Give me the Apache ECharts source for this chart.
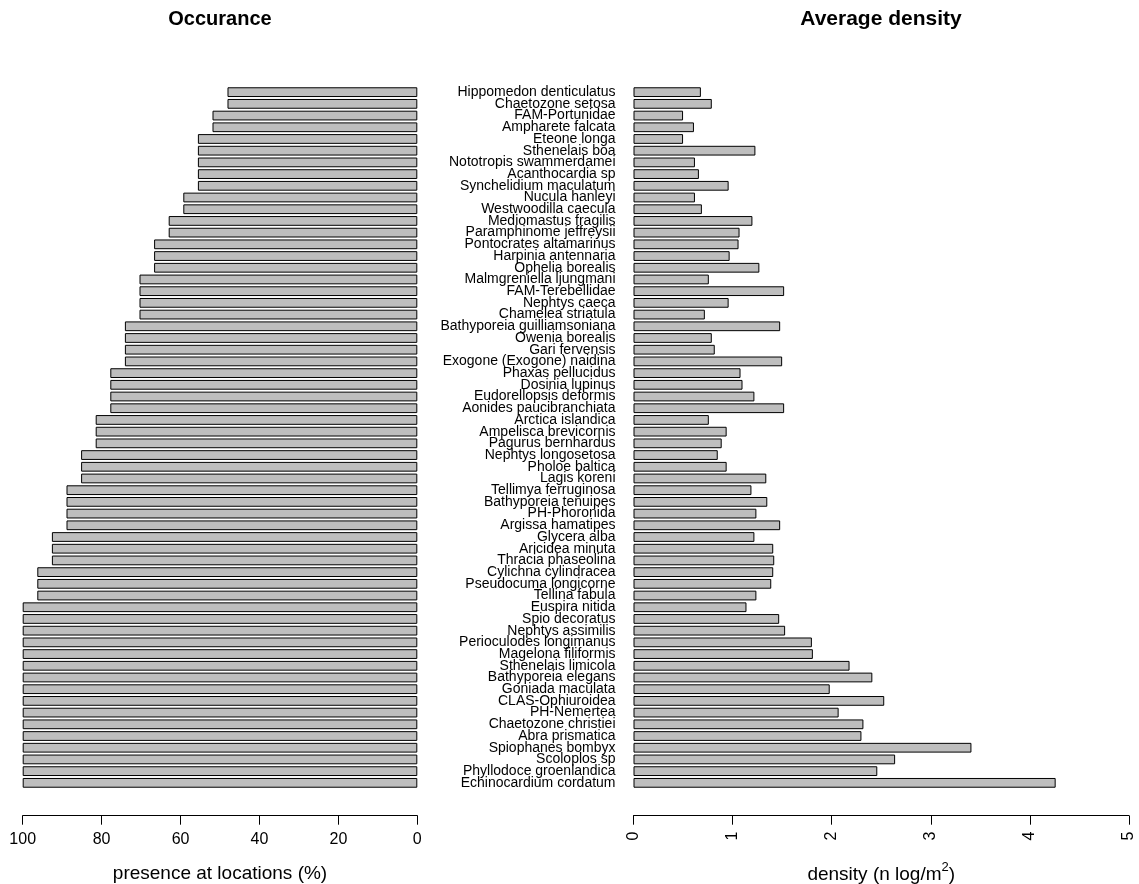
<!DOCTYPE html>
<html>
<head>
<meta charset="utf-8">
<script src="https://cdn.jsdelivr.net/npm/echarts@6/dist/echarts.min.js"></script>
<style>
html,body{margin:0;padding:0;background:#fff;}
#chart{width:1139px;height:884px;}
</style>
</head>
<body>
<div id="chart"></div>
<script>
const species = [
  "Hippomedon denticulatus","Chaetozone setosa","FAM-Portunidae","Ampharete falcata","Eteone longa",
  "Sthenelais boa","Nototropis swammerdamei","Acanthocardia sp","Synchelidium maculatum","Nucula hanleyi",
  "Westwoodilla caecula","Mediomastus fragilis","Paramphinome jeffreysii","Pontocrates altamarinus","Harpinia antennaria",
  "Ophelia borealis","Malmgreniella ljungmani","FAM-Terebellidae","Nephtys caeca","Chamelea striatula",
  "Bathyporeia guilliamsoniana","Owenia borealis","Gari fervensis","Exogone (Exogone) naidina","Phaxas pellucidus",
  "Dosinia lupinus","Eudorellopsis deformis","Aonides paucibranchiata","Arctica islandica","Ampelisca brevicornis",
  "Pagurus bernhardus","Nephtys longosetosa","Pholoe baltica","Lagis koreni","Tellimya ferruginosa",
  "Bathyporeia tenuipes","PH-Phoronida","Argissa hamatipes","Glycera alba","Aricidea minuta",
  "Thracia phaseolina","Cylichna cylindracea","Pseudocuma longicorne","Tellina fabula","Euspira nitida",
  "Spio decoratus","Nephtys assimilis","Perioculodes longimanus","Magelona filiformis","Sthenelais limicola",
  "Bathyporeia elegans","Goniada maculata","CLAS-Ophiuroidea","PH-Nemertea","Chaetozone christiei",
  "Abra prismatica","Spiophanes bombyx","Scoloplos sp","Phyllodoce groenlandica","Echinocardium cordatum"
];
const occurrence = [
  48.1,48.1,51.9,51.9,55.6,55.6,55.6,55.6,55.6,59.3,
  59.3,63.0,63.0,66.7,66.7,66.7,70.4,70.4,70.4,70.4,
  74.1,74.1,74.1,74.1,77.8,77.8,77.8,77.8,81.5,81.5,
  81.5,85.2,85.2,85.2,88.9,88.9,88.9,88.9,92.6,92.6,
  92.6,96.3,96.3,96.3,100,100,100,100,100,100,
  100,100,100,100,100,100,100,100,100,100
];
const density = [
  0.68,0.79,0.50,0.61,0.50,1.23,0.62,0.66,0.96,0.62,
  0.69,1.20,1.07,1.06,0.97,1.27,0.76,1.52,0.96,0.72,
  1.48,0.79,0.82,1.50,1.08,1.10,1.22,1.52,0.76,0.94,
  0.89,0.85,0.94,1.34,1.19,1.35,1.24,1.48,1.22,1.41,
  1.42,1.41,1.39,1.24,1.14,1.47,1.53,1.80,1.81,2.18,
  2.41,1.98,2.53,2.07,2.32,2.30,3.41,2.64,2.46,4.26
];
const occTicks = {min: 0, max: 100, interval: 20};
const denTicks = {min: 0, max: 5, interval: 1};

const FONT = "'Liberation Sans', Arial, Helvetica, sans-serif";
const chart = echarts.init(document.getElementById('chart'), null, {renderer: 'canvas'});
const axisBase = {
  axisLine: {show: true, lineStyle: {color: '#000', width: 1}},
  axisTick: {show: true, length: 9, lineStyle: {color: '#000', width: 1}},
  splitLine: {show: false}
};
chart.setOption({
  animation: false,
  backgroundColor: '#fff',
  textStyle: {fontFamily: FONT},
  title: [
    {text: 'Occurance', left: 220, top: 9, textAlign: 'center', padding: 0,
     textStyle: {fontFamily: FONT, fontWeight: 'bold', fontSize: 20, color: '#000'}},
    {text: 'Average density', left: 881, top: 9, textAlign: 'center', padding: 0,
     textStyle: {fontFamily: FONT, fontWeight: 'bold', fontSize: 21, color: '#000'}}
  ],
  grid: [
    {left: 22.7, top: 86.3, width: 394.6, height: 702.4, containLabel: false, outerBoundsMode: 'none'},
    {left: 633.5, top: 86.3, width: 495.5, height: 702.4, containLabel: false, outerBoundsMode: 'none'}
  ],
  xAxis: [
    Object.assign({}, axisBase, {
      type: 'value', gridIndex: 0, inverse: true,
      min: occTicks.min, max: occTicks.max, interval: occTicks.interval,
      position: 'bottom', offset: 27,
      axisLabel: {fontSize: 16, color: '#000', margin: 16, fontFamily: FONT},
      name: 'presence at locations (%)', nameLocation: 'middle', nameGap: 49,
      nameTextStyle: {fontSize: 19, color: '#000', fontFamily: FONT}
    }),
    Object.assign({}, axisBase, {
      type: 'value', gridIndex: 1,
      min: denTicks.min, max: denTicks.max, interval: denTicks.interval,
      position: 'bottom', offset: 27,
      axisLabel: {fontSize: 16, color: '#000', margin: 16, rotate: 90, fontFamily: FONT},
      name: 'density (n log/m{sup|2})', nameLocation: 'middle', nameGap: 45,
      nameTextStyle: {fontSize: 19, color: '#000', fontFamily: FONT, lineHeight: 28,
        rich: {sup: {fontSize: 13, color: '#000', fontFamily: FONT, verticalAlign: 'top', lineHeight: 13}}}
    })
  ],
  yAxis: [
    {type: 'category', gridIndex: 0, inverse: true, data: species,
     axisLine: {show: false}, axisTick: {show: false}, axisLabel: {show: false}, splitLine: {show: false}},
    {type: 'category', gridIndex: 1, inverse: true, data: species,
     axisLine: {show: false}, axisTick: {show: false}, splitLine: {show: false},
     axisLabel: {show: true, interval: 0, fontSize: 14, color: '#000', margin: 18, fontFamily: FONT}}
  ],
  series: [
    {type: 'bar', xAxisIndex: 0, yAxisIndex: 0, data: occurrence, barCategoryGap: '16.7%',
     itemStyle: {color: '#BEBEBE', borderColor: '#000', borderWidth: 1}, silent: true},
    {type: 'bar', xAxisIndex: 1, yAxisIndex: 1, data: density, barCategoryGap: '16.7%',
     itemStyle: {color: '#BEBEBE', borderColor: '#000', borderWidth: 1}, silent: true}
  ]
});
</script>
</body>
</html>
